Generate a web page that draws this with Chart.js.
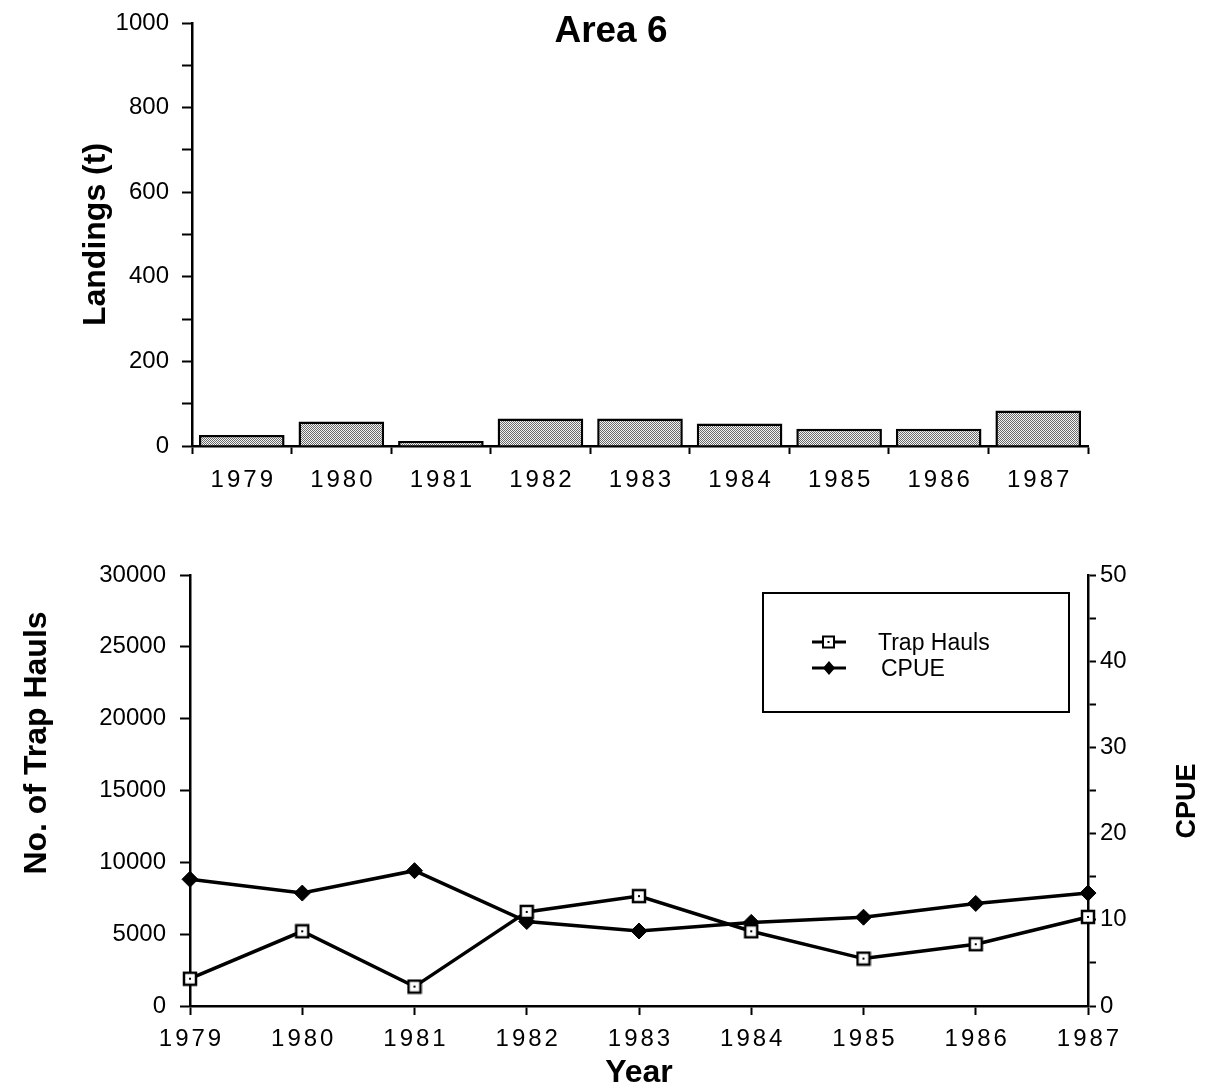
<!DOCTYPE html>
<html>
<head>
<meta charset="utf-8">
<script src="https://cdn.jsdelivr.net/npm/chart.js@4/dist/chart.umd.min.js"></script>
<style>
  html, body { margin: 0; padding: 0; background: #fff; }
  body { width: 1212px; height: 1092px; position: relative; overflow: hidden; font-family: "Liberation Sans", Arial, Helvetica, sans-serif; color: #000; }
  .abs { position: absolute; }
  #title { left: 506px; top: 8px; width: 210px; text-align: center; font-weight: bold; font-size: 37px; line-height: 44px; }
  #cpueTitle { left: 1136px; top: 785px; width: 100px; text-align: center; font-weight: bold; font-size: 27px; line-height: 32px; transform: rotate(-90deg); transform-origin: 50% 50%; }
  #haulsTitle { left: -165px; top: 724px; width: 400px; text-align: center; font-weight: bold; font-size: 32px; line-height: 38px; transform: rotate(-90deg); transform-origin: 50% 50%; }
  #legend { left: 762px; top: 592px; width: 304px; height: 117px; border: 2px solid #000; }
  .lg { position: absolute; font-size: 23px; line-height: 26px; white-space: pre; }
</style>
</head>
<body>
<div class="abs" style="left:0;top:0;"><canvas id="top" width="1212" height="500"></canvas></div>
<div class="abs" style="left:0;top:520px;"><canvas id="bottom" width="1212" height="572"></canvas></div>
<div id="title" class="abs">Area 6</div>
<div id="haulsTitle" class="abs">No. of Trap Hauls</div>
<div id="cpueTitle" class="abs">CPUE</div>
<div id="legend" class="abs">
  <svg class="abs" style="left:46px;top:38px;" width="40" height="20" viewBox="0 0 40 20">
    <line x1="2" y1="10" x2="36" y2="10" stroke="#000" stroke-width="3"/>
    <rect x="13" y="4.5" width="11" height="11" fill="#fff" stroke="#000" stroke-width="2"/>
    <rect x="17.5" y="9" width="2" height="2" fill="#000"/>
  </svg>
  <span class="lg" style="left:114px;top:35px;">Trap Hauls</span>
  <svg class="abs" style="left:46px;top:64px;" width="40" height="20" viewBox="0 0 40 20">
    <line x1="2" y1="10" x2="36" y2="10" stroke="#000" stroke-width="3"/>
    <polygon points="19,3 25,10 19,17 13,10" fill="#000"/>
  </svg>
  <span class="lg" style="left:117px;top:61px;">CPUE</span>
</div>
<script>
// ---- data ----
const years = ['1979', '1980', '1981', '1982', '1983', '1984', '1985', '1986', '1987'];
const landings = [26, 58, 12, 65, 65, 53, 41, 41, 84];
const trapHauls = [1900, 5200, 1350, 6550, 7650, 5200, 3300, 4300, 6200];
const cpue = [14.7, 13.1, 15.7, 9.8, 8.7, 9.7, 10.3, 11.9, 13.1];
const landingsTicksMajor = 200;
const haulsTicksStep = 5000;
const cpueTicksMajor = 10;

const FONT = '"Liberation Sans", Arial, Helvetica, sans-serif';
const tickFont = { family: FONT, size: 24 };

// letter-spaced x tick labels
const letterSpacingPlugin = {
  id: 'xLetterSpacing',
  beforeDraw(chart) {
    const s = chart.scales.x;
    if (s && !s._lsPatched) {
      const orig = s.drawLabels;
      s.drawLabels = function (area) {
        const ctx = this.ctx;
        ctx.save();
        ctx.letterSpacing = '3px';
        ctx.translate(1.5, 0);
        orig.call(this, area);
        ctx.restore();
      };
      s._lsPatched = true;
    }
  }
};

// stipple pattern for bars
const topCtx = document.getElementById('top').getContext('2d');
const tile = document.createElement('canvas');
tile.width = 2; tile.height = 2;
const tc = tile.getContext('2d');
tc.fillStyle = '#f4f4f4'; tc.fillRect(0, 0, 2, 2);
tc.fillStyle = '#6a6a6a';
tc.fillRect(0, 0, 1, 1); tc.fillRect(1, 1, 1, 1);
const stipple = topCtx.createPattern(tile, 'repeat');

// square marker with centre dot
const sq = document.createElement('canvas');
sq.width = 16; sq.height = 16;
const sc = sq.getContext('2d');
sc.fillStyle = '#fff'; sc.fillRect(1, 1, 14, 14);
sc.strokeStyle = '#000'; sc.lineWidth = 2.5; sc.strokeRect(2, 2, 12, 12);
sc.fillStyle = '#000'; sc.fillRect(7, 7, 2, 2);

const axisGrid = (len) => ({ display: true, drawOnChartArea: false, drawTicks: true, tickLength: len, tickColor: '#000', tickWidth: 2 });
const axisBorder = { display: true, color: '#000', width: 2.5 };

new Chart(topCtx, {
  type: 'bar',
  data: {
    labels: years,
    datasets: [{
      label: 'Landings (t)',
      data: landings,
      backgroundColor: stipple,
      borderColor: '#000',
      borderWidth: 2.5,
      barPercentage: 0.86,
      categoryPercentage: 1.0
    }]
  },
  options: {
    responsive: false,
    animation: false,
    layout: { padding: { left: 0, right: 124, top: 23, bottom: 0 } },
    plugins: { legend: { display: false }, tooltip: { enabled: false } },
    scales: {
      x: {
        offset: true,
        grid: Object.assign(axisGrid(8), { offset: true }),
        border: axisBorder,
        ticks: { font: tickFont, color: '#000', padding: 12, autoSkip: false, maxRotation: 0 },
        afterFit(s) { s.height = 54; }
      },
      y: {
        min: 0, max: 1000,
        grid: axisGrid(10),
        border: axisBorder,
        ticks: {
          stepSize: 100, autoSkip: false, font: tickFont, color: '#000', padding: 13,
          callback: (v) => (v % landingsTicksMajor === 0 ? String(v) : '')
        },
        title: { display: true, text: 'Landings (t)', color: '#000', font: { family: FONT, size: 32, weight: 'bold' }, padding: { top: 77, bottom: 0 } },
        afterFit(s) { s.width = 192; s.paddingTop = 0; s.paddingBottom = 0; }
      }
    }
  },
  plugins: [letterSpacingPlugin]
});

new Chart(document.getElementById('bottom').getContext('2d'), {
  type: 'line',
  data: {
    labels: years,
    datasets: [
      {
        label: 'Trap Hauls',
        data: trapHauls,
        yAxisID: 'y',
        borderColor: '#000',
        borderWidth: 3.5,
        pointStyle: sq,
        pointRadius: 8,
        tension: 0,
        fill: false
      },
      {
        label: 'CPUE',
        data: cpue,
        yAxisID: 'y1',
        borderColor: '#000',
        backgroundColor: '#000',
        borderWidth: 3.5,
        pointStyle: 'rectRot',
        pointRadius: 8,
        pointBorderWidth: 1,
        tension: 0,
        fill: false
      }
    ]
  },
  options: {
    responsive: false,
    animation: false,
    layout: { padding: { left: 0, right: 0, top: 55, bottom: 0 } },
    plugins: { legend: { display: false }, tooltip: { enabled: false } },
    scales: {
      x: {
        offset: false,
        grid: axisGrid(9),
        border: axisBorder,
        ticks: { font: tickFont, color: '#000', padding: 10, autoSkip: false, maxRotation: 0 },
        title: { display: true, text: 'Year', color: '#000', font: { family: FONT, size: 32, weight: 'bold' }, padding: { top: 0, bottom: 0 } },
        afterFit(s) { s.height = 86; }
      },
      y: {
        position: 'left',
        min: 0, max: 30000,
        grid: axisGrid(10),
        border: axisBorder,
        ticks: { stepSize: haulsTicksStep, autoSkip: false, font: tickFont, color: '#000', padding: 14, callback: (v) => String(v) },
        afterFit(s) { s.width = 190; }
      },
      y1: {
        position: 'right',
        min: 0, max: 50,
        grid: axisGrid(8),
        border: axisBorder,
        ticks: {
          stepSize: 5, autoSkip: false, font: tickFont, color: '#000', padding: 4,
          callback: (v) => (v % cpueTicksMajor === 0 ? String(v) : '')
        },
        afterFit(s) { s.width = 124; }
      }
    }
  },
  plugins: [letterSpacingPlugin]
});
</script>
</body>
</html>
